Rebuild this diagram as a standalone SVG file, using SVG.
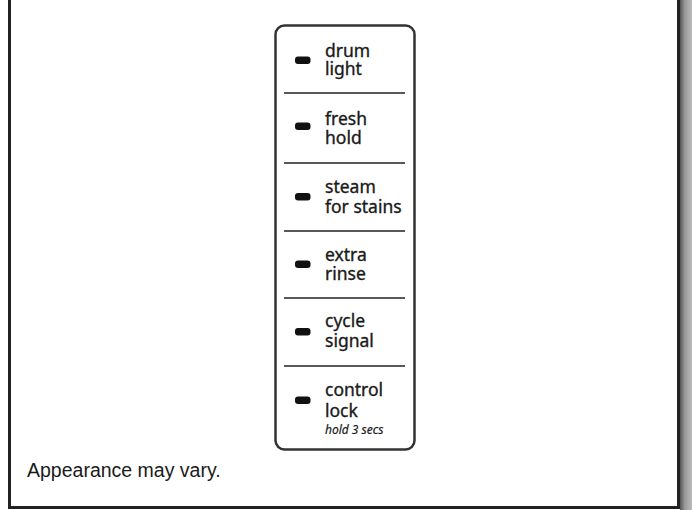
<svg xmlns="http://www.w3.org/2000/svg" width="692" height="510" viewBox="0 0 692 510">
<defs>
<linearGradient id="shade" x1="0" y1="0" x2="1" y2="0">
<stop offset="0" stop-color="#555"/>
<stop offset="0.4" stop-color="#999"/>
<stop offset="1" stop-color="#bbb"/>
</linearGradient>
<style>
.lbl{font-family:"Noto Sans","Open Sans",sans-serif;font-size:17.5px;fill:#1a1a1a;stroke:#1a1a1a;stroke-width:0.35}
.note{font-family:"Noto Sans","Open Sans",sans-serif;font-size:12px;font-style:italic;stroke-width:0.2}
.led{fill:#111}
.div{stroke:#222;stroke-width:1.5}
</style>
</defs>
<rect width="692" height="510" fill="#fff"/>
<rect x="680" y="0" width="12" height="510" fill="url(#shade)"/>
<path d="M9.5,0 V507.5 H678.5 V0" fill="none" stroke="#222" stroke-width="3"/>
<g id="panel">
<rect x="275.5" y="25.5" width="139" height="424" rx="9" fill="#fff" stroke="#333" stroke-width="2.5"/>
</g>
<g id="dividers">
<line class="div" x1="284" y1="93" x2="405" y2="93"/>
<line class="div" x1="284" y1="163" x2="405" y2="163"/>
<line class="div" x1="284" y1="231" x2="405" y2="231"/>
<line class="div" x1="284" y1="298" x2="405" y2="298"/>
<line class="div" x1="284" y1="366" x2="405" y2="366"/>
</g>
<g id="drum-light">
<rect class="led" x="295" y="56.5" width="15.5" height="7.5" rx="3"/>
<text class="lbl" x="325" y="57">drum<tspan x="325" dy="18">light</tspan></text>
</g>
<g id="fresh-hold">
<rect class="led" x="295" y="122.5" width="15.5" height="7.5" rx="3"/>
<text class="lbl" x="325" y="125">fresh<tspan x="325" dy="19">hold</tspan></text>
</g>
<g id="steam-for-stains">
<rect class="led" x="295" y="193" width="15.5" height="7.5" rx="3"/>
<text class="lbl" x="325" y="193">steam<tspan x="325" dy="20">for stains</tspan></text>
</g>
<g id="extra-rinse">
<rect class="led" x="295" y="260.5" width="15.5" height="7.5" rx="3"/>
<text class="lbl" x="325" y="261">extra<tspan x="325" dy="19">rinse</tspan></text>
</g>
<g id="cycle-signal">
<rect class="led" x="295" y="328" width="15.5" height="7.5" rx="3"/>
<text class="lbl" x="325" y="327">cycle<tspan x="325" dy="20">signal</tspan></text>
</g>
<g id="control-lock">
<rect class="led" x="295" y="396.5" width="15.5" height="7.5" rx="3"/>
<text class="lbl" x="325" y="396">control<tspan x="325" dy="21">lock</tspan><tspan class="note" x="325" dy="17">hold 3 secs</tspan></text>
</g>
<text x="27" y="477" font-family="Liberation Sans, Arial, sans-serif" font-size="19.5" fill="#1a1a1a">Appearance may vary.</text>
</svg>
